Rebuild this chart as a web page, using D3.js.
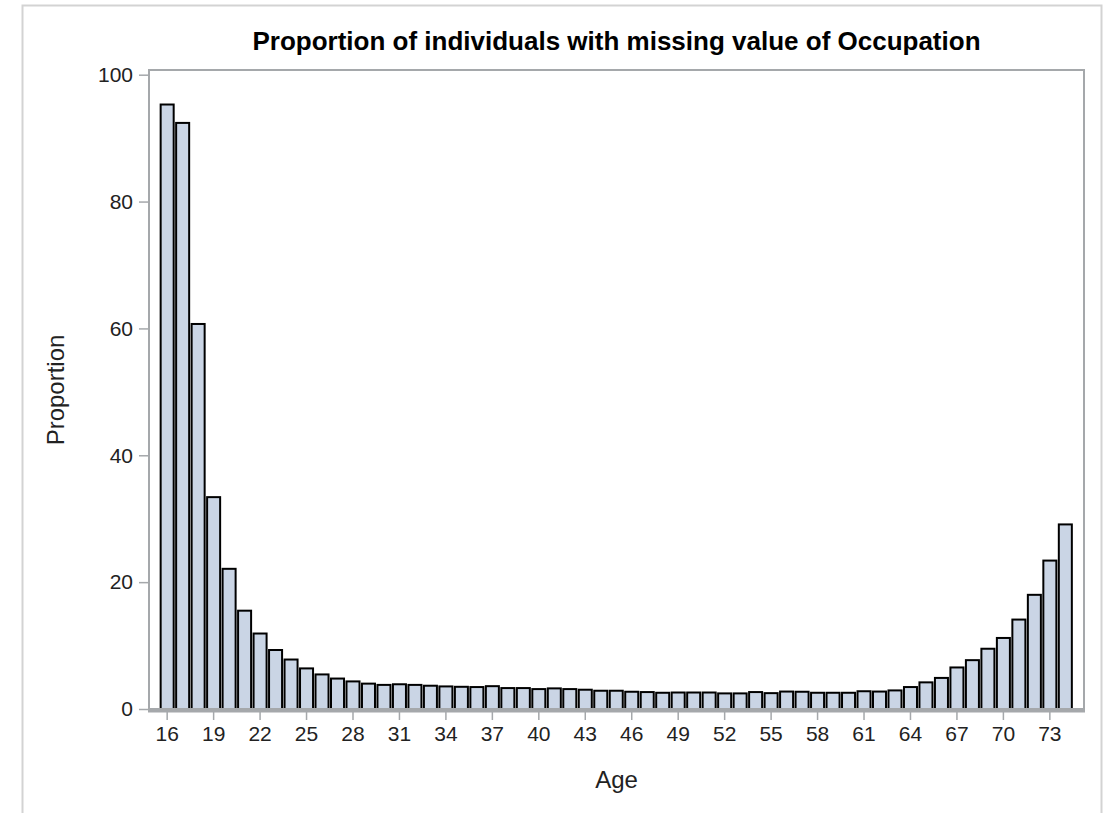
<!DOCTYPE html>
<html>
<head>
<meta charset="utf-8">
<script src="https://cdn.jsdelivr.net/npm/d3@7"></script>
<style>
  body { margin: 0; background: #fff; }
  text { font-family: "Liberation Sans", Arial, sans-serif; }
</style>
</head>
<body>
<svg id="chart" width="1104" height="813"></svg>
<script>
// DATA
// --------------------------------------
var ages = d3.range(16, 75);
var proportion = [
    95.3, 92.4, 60.7, 33.4, 22.1, 15.5, 11.9, 9.3, 7.8, 6.4,
    5.45, 4.8, 4.35, 4.0, 3.8, 3.9, 3.8, 3.67, 3.56, 3.5,
    3.46, 3.6, 3.3, 3.3, 3.14, 3.25, 3.14, 3.04, 2.88, 2.88,
    2.72, 2.67, 2.56, 2.6, 2.6, 2.6, 2.46, 2.46, 2.67, 2.5,
    2.75, 2.72, 2.56, 2.56, 2.56, 2.8, 2.75, 2.93, 3.46, 4.2,
    4.9, 6.55, 7.7, 9.5, 11.2, 14.1, 18.0, 23.4, 29.1
];
var yTicks = [0, 20, 40, 60, 80, 100];
var xTickAges = ages.filter(function(a){ return (a - 16) % 3 === 0; });

var TITLE = 'Proportion of individuals with missing value of Occupation';

// CONFIG
// --------------------------------------
var CONFIG = {
    left: 149, right: 1084, top: 70, bottom: 709,
    frameColor: '#a5a8ab',
    barFill: '#cad5e5',
    tickFont: '21px'
};

var svg = d3.select('#chart');

// outer border of the graph
svg.append('path')
    .attr('d', 'M22.5,820 V5.5 H1101.5 V820')
    .attr('fill', 'none')
    .attr('stroke', '#d3d3d3')
    .attr('stroke-width', 2);

var x = d3.scaleBand()
    .domain(ages)
    .range([159.5, 1073])
    .paddingInner(0.03)
    .paddingOuter(0.01);

var y = d3.scaleLinear()
    .domain([0, 100])
    .range([CONFIG.bottom, 74.7]);

// bars
var bw = x.bandwidth();
svg.append('g').selectAll('rect')
    .data(ages)
    .enter().append('rect')
    .attr('x', function(a){ return x(a) + 1; })
    .attr('width', bw - 2)
    .attr('y', function(a, i){ return y(proportion[i]); })
    .attr('height', function(a, i){ return CONFIG.bottom - y(proportion[i]); })
    .attr('fill', CONFIG.barFill)
    .attr('stroke', '#000')
    .attr('stroke-width', 2);

// frame
svg.append('rect')
    .attr('x', CONFIG.left)
    .attr('y', CONFIG.top)
    .attr('width', CONFIG.right - CONFIG.left)
    .attr('height', CONFIG.bottom - CONFIG.top)
    .attr('fill', 'none')
    .attr('stroke', CONFIG.frameColor)
    .attr('stroke-width', 2);

// thicker baseline
svg.append('line')
    .attr('x1', CONFIG.left - 1).attr('x2', CONFIG.right + 1)
    .attr('y1', CONFIG.bottom + 1.5).attr('y2', CONFIG.bottom + 1.5)
    .attr('stroke', CONFIG.frameColor)
    .attr('stroke-width', 4);

// y axis
var yAxis = svg.append('g')
    .attr('transform', 'translate(' + CONFIG.left + ',0)')
    .call(d3.axisLeft(y).tickValues(yTicks).tickSize(10).tickPadding(6));
yAxis.select('.domain').remove();
yAxis.selectAll('.tick line').attr('stroke', CONFIG.frameColor).attr('stroke-width', 1.5);
yAxis.selectAll('.tick text')
    .attr('fill', '#222')
    .style('font-size', CONFIG.tickFont)
    .style('font-family', '"Liberation Sans", Arial, sans-serif');

// x axis
var xAxis = svg.append('g')
    .attr('transform', 'translate(0,' + (CONFIG.bottom + 3) + ')')
    .call(d3.axisBottom(x).tickValues(xTickAges).tickSize(8).tickPadding(6));
xAxis.select('.domain').remove();
xAxis.selectAll('.tick line').attr('stroke', CONFIG.frameColor).attr('stroke-width', 1.5);
xAxis.selectAll('.tick text')
    .attr('fill', '#222')
    .style('font-size', CONFIG.tickFont)
    .style('font-family', '"Liberation Sans", Arial, sans-serif');

// labels
svg.append('text')
    .attr('x', (CONFIG.left + CONFIG.right) / 2)
    .attr('y', 50)
    .attr('text-anchor', 'middle')
    .attr('font-weight', 'bold')
    .attr('font-size', 26)
    .attr('fill', '#000')
    .text(TITLE);

svg.append('text')
    .attr('x', (CONFIG.left + CONFIG.right) / 2)
    .attr('y', 788)
    .attr('text-anchor', 'middle')
    .attr('font-size', 24)
    .attr('fill', '#222')
    .text('Age');

svg.append('text')
    .attr('transform', 'translate(64,390) rotate(-90)')
    .attr('text-anchor', 'middle')
    .attr('font-size', 24)
    .attr('fill', '#222')
    .text('Proportion');
</script>
</body>
</html>
